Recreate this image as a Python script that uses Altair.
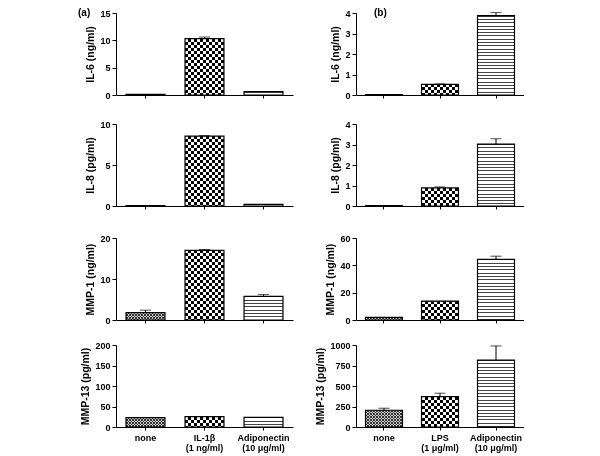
import math
import altair as alt
import pandas as pd

# ---------------- data ----------------
groups_a = ["none", "IL-1β", "Adiponectin"]
doses_a = ["", "(1 ng/ml)", "(10 μg/ml)"]
groups_b = ["none", "LPS", "Adiponectin"]
doses_b = ["", "(1 μg/ml)", "(10 μg/ml)"]

titles = ["IL-6 (ng/ml)", "IL-8 (pg/ml)", "MMP-1 (ng/ml)", "MMP-13 (pg/ml)"]

a_means = [[0.1, 10.3, 0.6], [0.05, 8.53, 0.2], [1.8, 17.0, 5.75], [22.9, 25.3, 23.7]]
a_errs = [[0, 0.3, 0], [0, 0.05, 0], [0.6, 0.2, 0.45], [0, 0, 0]]
a_max = [15, 10, 20, 200]
a_ticks = [[0, 5, 10, 15], [0, 5, 10], [0, 10, 20], [0, 50, 100, 150, 200]]

b_means = [[0.02, 0.52, 3.87], [0.02, 0.88, 3.02], [1.9, 13.8, 44.3], [204, 371, 816]]
b_errs = [[0, 0.02, 0.15], [0, 0.05, 0.26], [0, 0, 2.4], [25, 41, 172]]
b_max = [4, 4, 60, 1000]
b_ticks = [[0, 1, 2, 3, 4], [0, 1, 2, 3, 4], [0, 20, 40, 60], [0, 250, 500, 750, 1000]]

# ---------------- styling ----------------
H = 82
WA, WB = 177, 168
PI, PO = 0.34, 0.17
FONT = "Liberation Sans"


def stripe_stops(length, on, off, c_on, c_off):
    period = on + off
    n = max(1, math.ceil(length / period))
    stops = []
    for k in range(n):
        a = round(min(1.0, k * period / length), 4)
        b = round(min(1.0, (k * period + on) / length), 4)
        c = round(min(1.0, (k + 1) * period / length), 4)
        stops += [{"offset": a, "color": c_on}, {"offset": b, "color": c_on},
                  {"offset": b, "color": c_off}, {"offset": c, "color": c_off}]
    return stops


def lin(stops, along_y):
    if along_y:
        return {"gradient": "linear", "x1": 0, "y1": 0, "x2": 0, "y2": 1, "stops": stops}
    return {"gradient": "linear", "x1": 0, "y1": 0, "x2": 1, "y2": 0, "stops": stops}


def label_expr(groups, doses):
    expr = "datum.value"
    for g, d in zip(groups, doses):
        if d:
            expr = f"datum.value == '{g}' ? ['{g}', '{d}'] : " + expr
    return expr


def panel(groups, doses, means, errs, title, ymax, ticks, W, bottom, tag, tag_x):
    df = pd.DataFrame({"group": groups, "mean": means, "err": errs})
    df["hi"] = df["mean"] + df["err"]
    bw = W / 3 * (1 - PI)

    xaxis = alt.Axis(title=None, labels=bottom, labelAngle=0, tickSize=3,
                     labelExpr=label_expr(groups, doses), labelLineHeight=10.5,
                     labelPadding=3)
    xenc = alt.X("group:N", sort=groups,
                 scale=alt.Scale(paddingInner=PI, paddingOuter=PO), axis=xaxis)
    yscale = alt.Scale(domain=[0, ymax], nice=False, zero=True)
    yaxis = alt.Axis(values=ticks, title=title, format="d")

    def Y(field):
        return alt.Y(f"{field}:Q", scale=yscale, axis=yaxis, title=title)

    base = alt.Chart(df).encode(x=xenc, y=Y("mean"))
    layers = []
    for i, g in enumerate(groups):
        h = means[i] / ymax * H
        if h < 1.5:
            continue
        sub = base.transform_filter(alt.datum.group == g)
        if i == 2:
            layers.append(sub.mark_bar(fill=lin(stripe_stops(h, 1, 2.3, "#444444", "#ffffff"), True)))
        else:
            cell = 1.5 if i == 0 else 3
            dark, light = ("#333333", "#cccccc") if i == 0 else ("#000000", "#ffffff")
            layers.append(sub.mark_bar(fill=lin(stripe_stops(bw, cell, cell, dark, light), False)))
            layers.append(sub.mark_bar(fill=lin(stripe_stops(h, cell, cell, "#ffffff", "#000000"), True),
                                       blend="difference"))
    layers.append(base.mark_bar(fill="transparent", stroke="black", strokeWidth=1.2))
    eb = base.transform_filter(alt.datum.err > 0)
    layers.append(eb.mark_rule(color="black", strokeWidth=1).encode(y=Y("mean"), y2="hi:Q"))
    layers.append(eb.mark_tick(color="black", thickness=1, size=11).encode(y=Y("hi")))
    if tag:
        layers.append(
            alt.Chart(pd.DataFrame({"t": [tag]})).mark_text(
                font=FONT, fontSize=10, fontWeight="bold", align="left", baseline="top",
                color="black").encode(text="t:N", x=alt.value(tag_x), y=alt.value(-5)))
    return alt.layer(*layers).properties(width=W, height=H)


def column(groups, doses, means, errs, maxs, ticks, W, tag, tag_x):
    ps = [panel(groups, doses, means[k], errs[k], titles[k], maxs[k], ticks[k], W,
                k == 3, tag if k == 0 else None, tag_x) for k in range(4)]
    return alt.vconcat(alt.vconcat(ps[0], ps[1], spacing=20),
                       alt.vconcat(ps[2], ps[3], spacing=16), spacing=23)


left = column(groups_a, doses_a, a_means, a_errs, a_max, a_ticks, WA, "(a)", -38)
right = column(groups_b, doses_b, b_means, b_errs, b_max, b_ticks, WB, "(b)", 18)

chart = alt.hconcat(left, right, spacing=22).properties(
    padding={"left": 70, "top": 0, "right": 0, "bottom": 0}
).configure_view(stroke=None).configure_axis(
    labelFont=FONT, labelFontSize=9, labelFontWeight="bold", labelColor="black",
    titleFont=FONT, titleFontSize=10.5, titleFontWeight="bold", titleColor="black",
    domainColor="black", tickColor="black", grid=False, tickSize=4, labelPadding=2,
    titlePadding=4, domainWidth=1, tickWidth=1,
)

chart.save("out.html", embed_options={"renderer": "svg", "actions": False})
